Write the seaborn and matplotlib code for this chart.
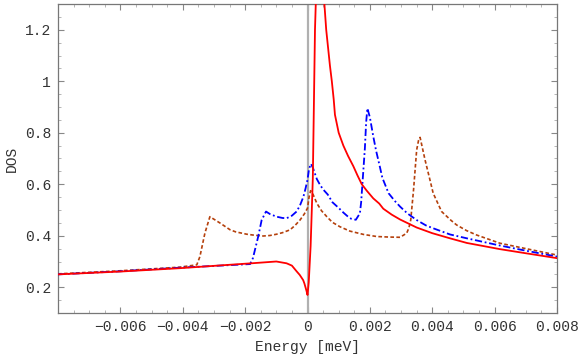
import numpy as np
import pandas as pd
import matplotlib
matplotlib.use("Agg")
import matplotlib.pyplot as plt
from matplotlib.ticker import MultipleLocator, FixedLocator
import seaborn as sns

# ---------- data ----------
red_e = [-0.008, -0.006, -0.0041, -0.0018, -0.001, -0.00067, -0.0005, -0.00035,
         -0.00025, -0.00014, -0.0001, -0.00003, 0.0, 0.00004, 0.0001, 0.00017,
         0.00021, 0.00024, 0.00027, 0.0004, 0.00046, 0.00053, 0.0006, 0.00066,
         0.00072, 0.00078, 0.00084, 0.00088, 0.001, 0.00115, 0.0013, 0.00147,
         0.0016, 0.00174, 0.0019, 0.00211, 0.0023, 0.00243, 0.0027, 0.00297,
         0.0035, 0.004, 0.00457, 0.00511, 0.00617, 0.007, 0.008]
red_dos = [0.250, 0.261, 0.274, 0.293, 0.300, 0.293, 0.284, 0.262,
           0.248, 0.228, 0.215, 0.185, 0.170, 0.220, 0.360, 0.620,
           0.950, 1.200, 1.320, 1.600, 1.500, 1.320, 1.200, 1.130,
           1.060, 1.000, 0.930, 0.870, 0.800, 0.750, 0.710, 0.670,
           0.635, 0.600, 0.575, 0.545, 0.525, 0.505, 0.482, 0.463,
           0.432, 0.410, 0.390, 0.372, 0.348, 0.332, 0.313]

blue_e = [-0.008, -0.006, -0.0041, -0.00184, -0.00175, -0.00158, -0.00147, -0.00133,
          -0.0012, -0.00099, -0.0008, -0.00067, -0.0005, -0.00035, -0.00024, -0.00013,
          -0.00006, 0.0, 0.00005, 0.00011, 0.00017, 0.0003, 0.0004, 0.0005,
          0.00065, 0.0008, 0.001, 0.00115, 0.0013, 0.0014, 0.00155, 0.00168,
          0.00172, 0.00176, 0.0018, 0.00184, 0.00188, 0.00192, 0.002, 0.00211,
          0.0022, 0.00232, 0.0024, 0.0026, 0.0028, 0.00297, 0.0032, 0.0035,
          0.0038, 0.00403, 0.00457, 0.00511, 0.00617, 0.007, 0.008]
blue_dos = [0.250, 0.262, 0.276, 0.290, 0.313, 0.397, 0.461, 0.494,
            0.484, 0.474, 0.469, 0.468, 0.478, 0.494, 0.518, 0.552,
            0.585, 0.617, 0.660, 0.679, 0.665, 0.620, 0.598, 0.580,
            0.560, 0.530, 0.508, 0.490, 0.474, 0.466, 0.462, 0.487,
            0.530, 0.600, 0.670, 0.740, 0.840, 0.895, 0.860, 0.785,
            0.730, 0.668, 0.625, 0.565, 0.535, 0.513, 0.487, 0.461,
            0.440, 0.429, 0.405, 0.390, 0.362, 0.342, 0.319]

brown_e = [-0.008, -0.006, -0.0041, -0.00355, -0.00345, -0.00329, -0.00313, -0.0028,
           -0.00248, -0.0023, -0.00195, -0.0017, -0.00142, -0.0012, -0.00099, -0.0008,
           -0.00056, -0.0004, -0.00024, -0.0001, 0.0, 0.00005, 0.0001, 0.00018,
           0.0003, 0.00045, 0.00062, 0.0008, 0.00104, 0.00136, 0.0018, 0.00222,
           0.0026, 0.00297, 0.00318, 0.00325, 0.00331, 0.0034, 0.0035, 0.00356,
           0.00361, 0.00377, 0.0039, 0.00403, 0.0043, 0.0046, 0.00478, 0.0051,
           0.00542, 0.00617, 0.007, 0.008]
brown_dos = [0.252, 0.264, 0.278, 0.287, 0.319, 0.410, 0.474, 0.449,
             0.423, 0.415, 0.406, 0.402, 0.399, 0.401, 0.406, 0.412,
             0.423, 0.440, 0.461, 0.485, 0.507, 0.550, 0.575, 0.560,
             0.526, 0.497, 0.474, 0.452, 0.435, 0.418, 0.405, 0.397,
             0.395, 0.394, 0.410, 0.430, 0.461, 0.578, 0.733, 0.770,
             0.782, 0.694, 0.630, 0.565, 0.494, 0.460, 0.442, 0.420,
             0.403, 0.371, 0.350, 0.325]

x_ticks = [-0.006, -0.004, -0.002, 0, 0.002, 0.004, 0.006, 0.008]
x_labels = ["\u22120.006", "\u22120.004", "\u22120.002", "0", "0.002", "0.004", "0.006", "0.008"]
y_ticks = [0.2, 0.4, 0.6, 0.8, 1.0, 1.2]
y_labels = ["0.2", "0.4", "0.6", "0.8", "1", "1.2"]

# ---------- plot ----------
sns.set_style("ticks")
plt.rcParams["font.family"] = ["Liberation Mono", "DejaVu Sans Mono"]

fig = plt.figure(figsize=(5.81, 3.59), dpi=100)
ax = fig.add_axes([58 / 581, 1 - 313 / 359, (557 - 58) / 581, (313 - 4) / 359])

ax.axvline(0, color="#b0b0b0", lw=1.6, zorder=1)

brown = pd.DataFrame({"E": brown_e, "DOS": brown_dos})
blue = pd.DataFrame({"E": blue_e, "DOS": blue_dos})
red = pd.DataFrame({"E": red_e, "DOS": red_dos})

sns.lineplot(data=brown, x="E", y="DOS", ax=ax, color="#b5400c", lw=1.2,
             linestyle=(0, (2.2, 1.4)), sort=False, estimator=None, zorder=2)
sns.lineplot(data=blue, x="E", y="DOS", ax=ax, color="#0000ff", lw=1.3,
             linestyle=(0, (4, 1.5, 1, 1.5)), sort=False, estimator=None, zorder=3)
sns.lineplot(data=red, x="E", y="DOS", ax=ax, color="#ff0000", lw=1.3,
             sort=False, estimator=None, zorder=4)

ax.set_xlim(-0.008, 0.008)
ax.set_ylim(0.1, 1.3)

ax.xaxis.set_major_locator(FixedLocator(x_ticks))
ax.set_xticklabels(x_labels)
ax.xaxis.set_minor_locator(MultipleLocator(0.0005))
ax.yaxis.set_major_locator(FixedLocator(y_ticks))
ax.set_yticklabels(y_labels)
ax.yaxis.set_minor_locator(MultipleLocator(0.05))

ax.tick_params(which="both", direction="in", top=True, right=True,
               color="#888888", labelsize=10.5, labelcolor="#333333", pad=5)
ax.tick_params(which="major", length=4.5, width=0.8)
ax.tick_params(which="minor", length=2.5, width=0.6, color="#aaaaaa")
for s in ax.spines.values():
    s.set_color("#777777")
    s.set_linewidth(0.9)

ax.set_xlabel("Energy [meV]", fontsize=10.5, color="#333333", labelpad=4)
ax.set_ylabel("DOS", fontsize=10.5, color="#333333", labelpad=4)

fig.savefig("out.png", dpi=100)
